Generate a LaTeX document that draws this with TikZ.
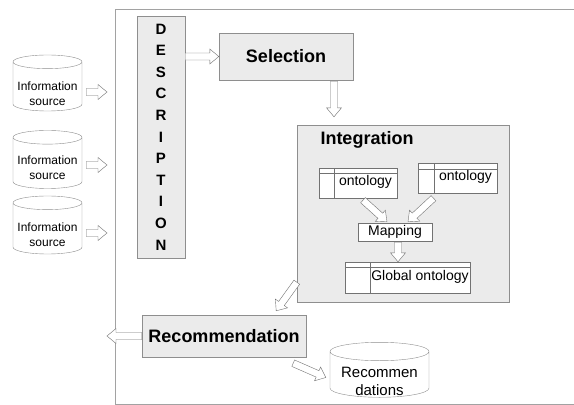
\documentclass[tikz,border=0pt]{standalone}
\usepackage{fontspec}
\setmainfont{Liberation Sans}
\usetikzlibrary{shapes.geometric,positioning,calc}
\definecolor{boxgray}{HTML}{EBEBEB}
\definecolor{linegray}{HTML}{8E8E8E}
\definecolor{framegray}{HTML}{A2A2A2}
\tikzstyle{stage} = [draw=linegray,fill=boxgray,inner sep=0pt,font=\fontsize{18}{20}\bfseries\selectfont]
\tikzstyle{store} = [cylinder,shape border rotate=90,aspect=0.22,draw=linegray,fill=white,inner sep=0pt,text width=62pt]
\tikzset{
  storetext/.style={align=center,font=\fontsize{12}{15}\selectfont},
  onto/.style 2 args={draw=linegray!80!black,fill=white,inner sep=0pt,font=\fontsize{14}{16}\selectfont,
    path picture={
      \draw[linegray!80!black] ([yshift=-#1]path picture bounding box.north west) -- ([yshift=-#1]path picture bounding box.north east);
      \draw[linegray!80!black] ([xshift=#2]path picture bounding box.north west) -- ([xshift=#2]path picture bounding box.south west);
    }},
  hollow/.style={draw=linegray!80!black,fill=white,
    to path={($(\tikztostart)!3.5pt!90:(\tikztotarget)$)
      -- ($($(\tikztotarget)!9pt!(\tikztostart)$)!3.5pt!90:(\tikztotarget)$)
      -- ($($(\tikztotarget)!9pt!(\tikztostart)$)!7.5pt!90:(\tikztotarget)$)
      -- (\tikztotarget)
      -- ($($(\tikztotarget)!9pt!(\tikztostart)$)!7.5pt!-90:(\tikztotarget)$)
      -- ($($(\tikztotarget)!9pt!(\tikztostart)$)!3.5pt!-90:(\tikztotarget)$)
      -- ($(\tikztostart)!3.5pt!-90:(\tikztotarget)$) -- cycle}}
}

\begin{document}
\begin{tikzpicture}[x=1pt,y=-1pt]
    \useasboundingbox (0,0) rectangle (574,405);
    \clip (0,0) rectangle (574,405);
    \draw [framegray] (600,9) -| (115,404) -- (600,404);

    \node [store,minimum width=69pt,minimum height=56pt,label={[storetext,yshift=-7pt]center:Information\\source}] (src1) at (47.5,86.5) {};
    \node [store,minimum width=69pt,minimum height=58pt,label={[storetext,yshift=-5pt]center:Information\\source}] (src2) at (47.5,163) {};
    \node [store,minimum width=69pt,minimum height=58pt,label={[storetext,yshift=-6pt]center:Information\\source}] (src3) at (47.5,228.5) {};
    \coordinate (in1) at (107,92);
    \coordinate (in2) at (107,165);
    \coordinate (in3) at (107,233);

    \node [stage,minimum width=48pt,minimum height=242pt,align=center,font=\fontsize{15}{21.6}\bfseries\selectfont] (desc) at (161,137) {D\\E\\S\\C\\R\\I\\P\\T\\I\\O\\N};
    \node [stage,minimum width=134pt,minimum height=47pt] (sel) at (286,56.5) {Selection};
    \node [stage,minimum width=212pt,minimum height=177pt] (integ) at (403,213.5) {};
    \node [font=\fontsize{18}{20}\bfseries\selectfont] (intlbl) at (367,140) {Integration};
    \node [onto={5pt}{15pt},minimum width=78pt,minimum height=30pt,text depth=5pt] (onto1) at (358,183) {\hspace*{15pt}ontology};
    \node [onto={6pt}{16pt},minimum width=79pt,minimum height=30pt,text depth=5pt] (onto2) at (457.5,178) {\hspace*{16pt}ontology};
    \node [onto={0pt}{0pt},minimum width=74pt,minimum height=18pt] (map) at (395,232) {Mapping};
    \node [onto={5pt}{25pt},minimum width=125pt,minimum height=31pt,text depth=5pt] (glob) at (407.5,277.5) {\hspace*{25pt}Global ontology};
    \node [stage,minimum width=164pt,minimum height=42pt] (rec) at (224,336) {Recommendation};
    \node [store,aspect=0.2,text width=92pt,minimum width=99pt,minimum height=55pt,label={[storetext,font=\fontsize{15}{18}\selectfont,yshift=-7pt]center:Recommen\\dations}] (recs) at (379.5,374.5) {};
    \coordinate (out) at (107,336);

    \draw [hollow] ($(src1.east |- in1)+(4,0)$) to (in1);
    \draw [hollow] ($(src2.east |- in2)+(4,0)$) to (in2);
    \draw [hollow] ($(src3.east |- in3)+(4,0)$) to (in3);
    \draw [hollow] (desc.east |- sel.west) to (sel.west);
    \draw [hollow] ($(sel.south)+(48,1)$) to ($(integ.north -| sel.south)+(48,-8)$);
    \draw [hollow] ($(onto1.south)+(5,2)$) to ($(map.north)+(-8,-1)$);
    \draw [hollow] ($(onto2.south)+(-24,5)$) to ($(map.north)+(13,-1)$);
    \draw [hollow] ($(map.south)+(3,1)$) to ($(map.south |- glob.north)+(3,0)$);
    \draw [hollow] ($(integ.south west)+(0,-20)$) to ($(rec.north east)+(-30,-4)$);
    \draw [hollow] (rec.west) to (out);
    \draw [hollow] ($(rec.south east)+(-13,6)$) to ($(recs.west)+(-4,3)$);
\end{tikzpicture}
\end{document}
